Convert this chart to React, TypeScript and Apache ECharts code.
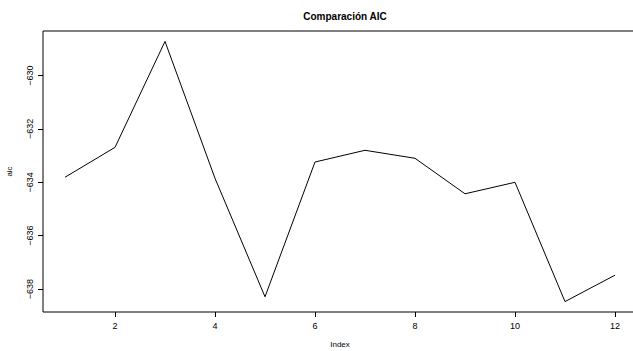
import React, { useEffect, useRef } from "react";
import * as echarts from "echarts";

const indexValues = [1, 2, 3, 4, 5, 6, 7, 8, 9, 10, 11, 12];
const aicValues = [-633.81, -632.69, -628.72, -633.85, -638.29, -633.24, -632.8, -633.1, -634.43, -634.0, -638.47, -637.48];
const xTicks = [2, 4, 6, 8, 10, 12];
const yTicks = [-638, -636, -634, -632, -630];

const FONT = "'Liberation Sans', Arial, sans-serif";

export default function App() {
  const ref = useRef<HTMLDivElement>(null);
  useEffect(() => {
    document.body.style.margin = "0";
    const chart = echarts.init(ref.current!, null, { renderer: "svg" });
    const yMin = Math.min(...aicValues);
    const yMax = Math.max(...aicValues);
    const yPad = (yMax - yMin) * 0.04;
    const xMin = indexValues[0];
    const xMax = indexValues[indexValues.length - 1];
    const xPad = (xMax - xMin) * 0.04;
    chart.setOption({
      animation: false,
      backgroundColor: "#ffffff",
      title: {
        text: "Comparación AIC",
        left: 340,
        top: 6,
        textAlign: "center",
        textStyle: { fontFamily: FONT, fontSize: 10, fontWeight: "bold", color: "#000" },
      },
      grid: {
        left: 43,
        top: 31,
        width: 594,
        height: 281,
        outerBoundsMode: "none",
        containLabel: false,
        show: true,
        borderColor: "#000",
        borderWidth: 1,
        backgroundColor: "transparent",
      },
      xAxis: {
        type: "value",
        min: xMin - xPad,
        max: xMax + xPad,
        name: "Index",
        nameLocation: "middle",
        nameGap: 28,
        nameTextStyle: { fontFamily: FONT, fontSize: 8, color: "#000" },
        axisLine: { show: false },
        splitLine: { show: false },
        axisTick: { show: true, length: 5, customValues: xTicks, lineStyle: { color: "#000" } },
        axisLabel: {
          customValues: xTicks,
          margin: 9,
          fontFamily: FONT,
          fontSize: 9,
          color: "#000",
        },
      },
      yAxis: {
        type: "value",
        min: yMin - yPad,
        max: yMax + yPad,
        name: "aic",
        nameLocation: "middle",
        nameGap: 30,
        nameRotate: 90,
        nameTextStyle: { fontFamily: FONT, fontSize: 8, color: "#000" },
        axisLine: { show: false },
        splitLine: { show: false },
        axisTick: { show: true, length: 5, customValues: yTicks, lineStyle: { color: "#000" } },
        axisLabel: {
          customValues: yTicks,
          rotate: 90,
          margin: 9,
          fontFamily: FONT,
          fontSize: 9,
          color: "#000",
          formatter: (v: number) => String(Math.round(v)).replace("-", "\u2212"),
        },
      },
      series: [
        {
          type: "line",
          data: indexValues.map((x, i) => [x, aicValues[i]]),
          showSymbol: false,
          lineStyle: { color: "#000", width: 1 },
        },
      ],
    });
    return () => chart.dispose();
  }, []);
  return <div ref={ref} style={{ width: 633, height: 351 }} />;
}
